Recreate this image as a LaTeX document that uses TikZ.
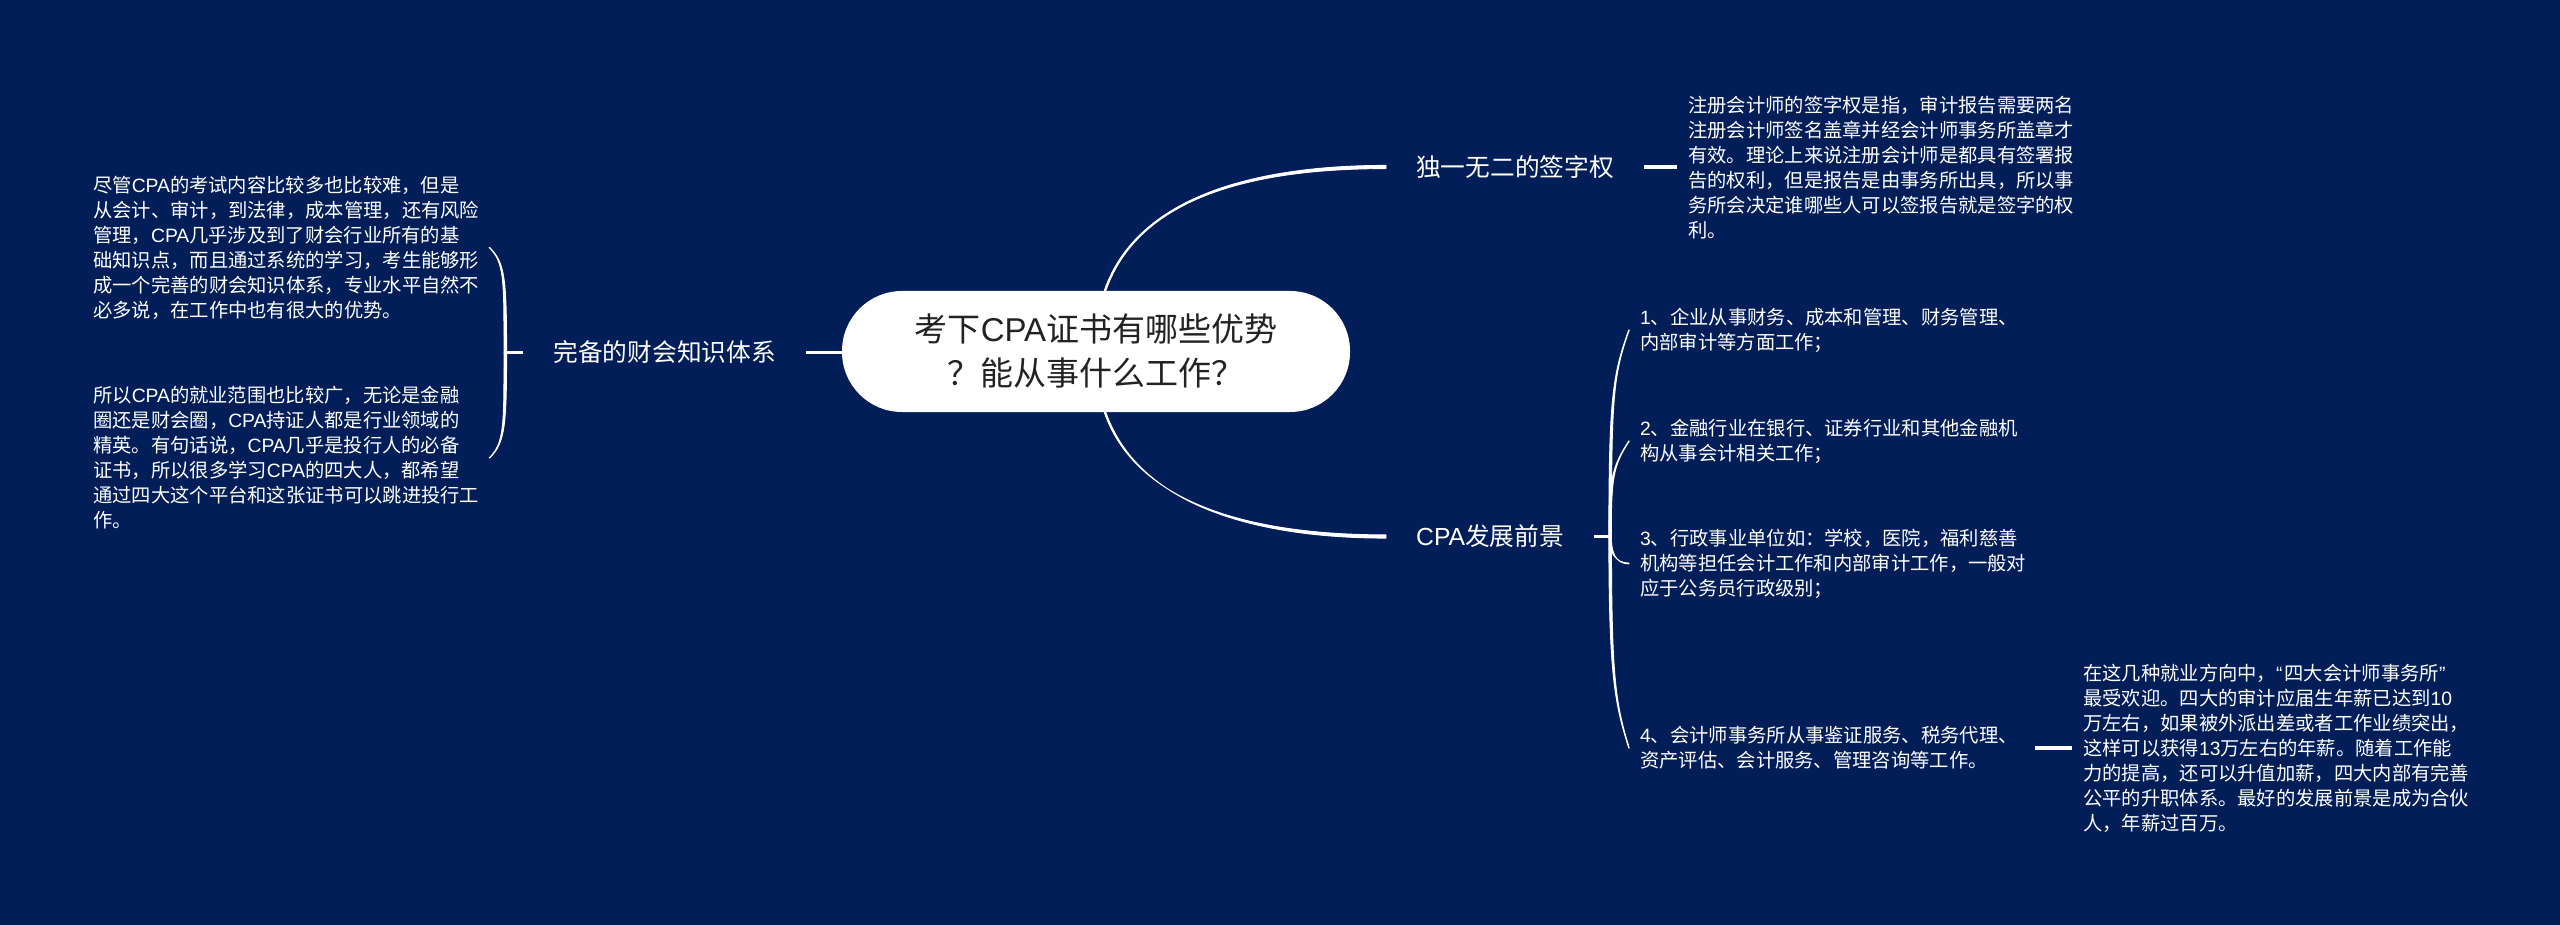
\documentclass[tikz,border=0pt]{standalone}
\usepackage{fontspec}
\setmainfont{Noto Sans CJK SC}
\newfontfamily\lt{Liberation Sans}
\usetikzlibrary{calc}
\definecolor{bgblue}{HTML}{021E59}
\definecolor{inkdark}{HTML}{222222}
\tikzset{
  bodytext/.style={text=white,align=left,anchor=west,inner xsep=11pt,inner ysep=0pt,font=\fontsize{19.3}{25}\selectfont},
  branchlabel/.style={text=white,inner xsep=30pt,inner ysep=0pt,font=\fontsize{24.7}{30}\selectfont},
  rootnode/.style={fill=white,rounded corners=60pt,minimum width=508pt,minimum height=121pt,inner sep=0pt,text=inkdark,align=center,font=\fontsize{33}{44}\selectfont},
  link/.style={draw=white,line width=3.3pt},
  taper/.style={draw=white,fill=white,line width=0.9pt,line join=round},
}
% start, control offset from start, control offset from end, end, half width at start, half width at end
\newcommand\taperlink[6]{%
  \draw[taper] ($#1+#5$) .. controls ($#1+#2+#5$) and ($#4+#3+#6$) .. ($#4+#6$)
    -- ($#4-#6$) .. controls ($#4+#3-#6$) and ($#1+#2-#5$) .. ($#1-#5$) -- cycle;}
\begin{document}
\begin{tikzpicture}[x=1pt,y=-1pt]
\path[use as bounding box,fill=bgblue] (0,0) rectangle (2560,925);
% nodes
\node[rootnode] (root) at (1096,351.5) {考下{\lt CPA}证书有哪些优势\\？能从事什么工作？\hspace*{0pt}};
\node[branchlabel,anchor=west] (sign) at (1386,167) {独一无二的签字权};
\node[branchlabel,anchor=west] (cpa) at (1386,536.5) {{\lt CPA}发展前景};
\node[branchlabel,anchor=east] (know) at (806,352.5) {完备的财会知识体系};
\node[bodytext,text width=385pt] (k1) at (82,247.5) {尽管{\lt CPA}的考试内容比较多也比较难，但是\\从会计、审计，到法律，成本管理，还有风险\\管理，{\lt CPA}几乎涉及到了财会行业所有的基\\础知识点，而且通过系统的学习，考生能够形\\成一个完善的财会知识体系，专业水平自然不\\必多说，在工作中也有很大的优势。};
\node[bodytext,text width=385pt] (k2) at (82,458) {所以{\lt CPA}的就业范围也比较广，无论是金融\\圈还是财会圈，{\lt CPA}持证人都是行业领域的\\精英。有句话说，{\lt CPA}几乎是投行人的必备\\证书，所以很多学习{\lt CPA}的四大人，都希望\\通过四大这个平台和这张证书可以跳进投行工\\作。};
\node[bodytext,text width=390pt] (s1) at (1677,168) {注册会计师的签字权是指，审计报告需要两名\\注册会计师签名盖章并经会计师事务所盖章才\\有效。理论上来说注册会计师是都具有签署报\\告的权利，但是报告是由事务所出具，所以事\\务所会决定谁哪些人可以签报告就是签字的权\\利。};
\node[bodytext,text width=384pt] (i1) at (1629,330) {{\lt 1}、企业从事财务、成本和管理、财务管理、\\内部审计等方面工作；};
\node[bodytext,text width=384pt] (i2) at (1629,441) {{\lt 2}、金融行业在银行、证券行业和其他金融机\\构从事会计相关工作；};
\node[bodytext,text width=384pt] (i3) at (1629,563.5) {{\lt 3}、行政事业单位如：学校，医院，福利慈善\\机构等担任会计工作和内部审计工作，一般对\\应于公务员行政级别；};
\node[bodytext,text width=384pt] (i4) at (1629,748) {{\lt 4}、会计师事务所从事鉴证服务、税务代理、\\资产评估、会计服务、管理咨询等工作。};
\node[bodytext,text width=400pt] (d4) at (2072,748) {在这几种就业方向中，{\lt “}\hspace{2pt}四大会计师事务所{\lt ”}\\最受欢迎。四大的审计应届生年薪已达到{\lt 10}\\万左右，如果被外派出差或者工作业绩突出，\\这样可以获得{\lt 13}万左右的年薪。随着工作能\\力的提高，还可以升值加薪，四大内部有完善\\公平的升职体系。最好的发展前景是成为合伙\\人，年薪过百万。};
% junction points
\coordinate (kj) at ($(know.west)+(-18,0)$);
\coordinate (cj) at ($(cpa.east)+(16,0)$);
\coordinate (rn) at ($(root.north)+(9,0)$);
\coordinate (rs) at ($(root.south)+(9,0)$);
% connectors
\draw[link] (root.west |- know.east) -- (know.east);
\taperlink{(rn)}{(35,-101)}{(-116,0)}{(sign.west)}{(0.8,0)}{(0,1.6)}
\taperlink{(rs)}{(35,100)}{(-116,0)}{(cpa.west)}{(0.8,0)}{(0,1.6)}
\draw[link] (sign.east) -- (s1.west |- sign.east);
\draw[link] (know.west) -- (kj);
\taperlink{(kj)}{(0,-75)}{(15,15)}{(k1.east)}{(1.3,0)}{(0.3,0)}
\taperlink{(kj)}{(0,75)}{(15,-15)}{(k2.east)}{(1.3,0)}{(0.3,0)}
\draw[link] (cpa.east) -- (cj);
\taperlink{(cj)}{(0,-140)}{(-16,45)}{(i1.west)}{(1.3,0)}{(0.3,0)}
\taperlink{(cj)}{(0,-60)}{(-16,25)}{(i2.west)}{(1.1,0)}{(0.3,0)}
\taperlink{(cj)}{(0,15)}{(-14,0)}{(i3.west)}{(1.1,0)}{(0,0.4)}
\taperlink{(cj)}{(0,140)}{(-14,-45)}{(i4.west)}{(1.3,0)}{(0.3,0)}
\draw[link] (i4.east) -- (i4.east -| d4.west);
\end{tikzpicture}
\end{document}
